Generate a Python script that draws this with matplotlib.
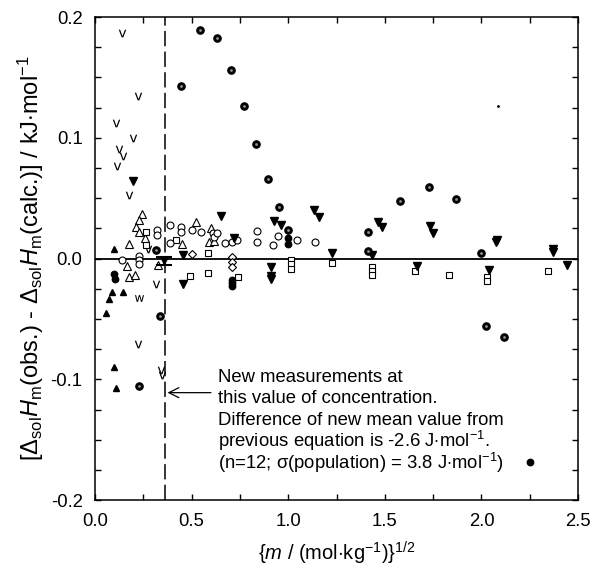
import matplotlib
matplotlib.use("Agg")
import matplotlib.pyplot as plt

plt.rcParams['font.family'] = ['Liberation Sans', 'DejaVu Sans']
plt.rcParams['mathtext.fontset'] = 'custom'
plt.rcParams['mathtext.rm'] = 'Liberation Sans'
plt.rcParams['mathtext.it'] = 'Liberation Sans:italic'
plt.rcParams['axes.unicode_minus'] = False

# data: x = sqrt(m), y = deviation in kJ/mol
v_x = [0.138, 0.224, 0.107, 0.195, 0.126, 0.143, 0.112, 0.178, 0.276, 0.314, 0.221, 0.340, 0.345]
v_y = [0.187, 0.135, 0.112, 0.100, 0.091, 0.085, 0.077, 0.053, 0.008, -0.021, -0.071, -0.092, -0.096]
w_x = [0.229]
w_y = [-0.033]

tri_fill_x = [0.097, 0.086, 0.147, 0.074, 0.055, 0.100, 0.107]
tri_fill_y = [0.008, -0.0275, -0.0275, -0.0335, -0.045, -0.090, -0.107]

tri_open_x = [0.245, 0.228, 0.214, 0.229, 0.259, 0.178, 0.521, 0.452, 0.592, 0.600, 0.616,
              0.166, 0.178, 0.209, 0.324]
tri_open_y = [0.037, 0.032, 0.026, 0.0217, 0.017, 0.0123, 0.030, 0.0117, 0.0137, 0.025, 0.0147,
              -0.006, -0.015, -0.0137, -0.0057]

sq_x = [0.262, 0.262, 0.419, 0.585, 0.492, 0.587, 0.739, 1.014, 1.014, 1.014, 1.225, 1.432,
        1.432, 1.432, 1.655, 1.832, 2.029, 2.029, 2.345]
sq_y = [0.022, 0.011, 0.0153, 0.005, -0.014, -0.012, -0.0156, -0.0012, -0.0048, -0.0087, -0.0035,
        -0.0073, -0.0104, -0.0137, -0.0106, -0.0134, -0.015, -0.0184, -0.0101]

circ_open_x = [0.319, 0.319, 0.388, 0.445, 0.445, 0.500, 0.549, 0.612, 0.616, 0.631, 0.671, 0.707,
               0.733, 0.837, 0.837, 0.920, 0.947, 0.388, 0.226, 0.226, 0.226, 0.141, 1.047, 1.139]
circ_open_y = [0.024, 0.0195, 0.028, 0.026, 0.022, 0.0236, 0.022, 0.021, 0.0176, 0.0214, 0.0126, 0.014,
               0.0153, 0.0225, 0.0134, 0.0114, 0.0186, 0.0131, 0.0023, -0.0012, -0.0046, -0.0012,
               0.0153, 0.0139]

dia_x = [0.502, 0.709, 0.709, 0.709]
dia_y = [0.0037, 0.001, -0.003, -0.0073]

tri_down_x = [0.195, 0.652, 0.457, 0.457, 0.719, 0.911, 0.911, 0.911, 0.925, 0.963, 1.135, 1.159,
              1.225, 1.432, 1.463, 1.487, 1.665, 1.734, 1.751, 2.038, 2.074, 2.080, 2.369, 2.372, 2.441]
tri_down_y = [0.064, 0.035, 0.003, -0.0214, 0.0167, -0.0073, -0.0145, -0.0167, 0.031, 0.028, 0.040,
              0.0346, 0.005, 0.003, 0.0305, 0.0263, -0.0062, 0.027, 0.0209, -0.0095, 0.014, 0.0155,
              0.0079, 0.0056, -0.0057]

dot_circ_x = [0.545, 0.630, 0.706, 0.445, 0.771, 0.834, 0.894, 0.950, 0.317, 0.335, 0.229, 0.998,
              1.411, 1.580, 1.730, 1.869, 1.415, 2.000, 2.022, 2.117]
dot_circ_y = [0.189, 0.183, 0.156, 0.1426, 0.126, 0.095, 0.066, 0.043, 0.0068, -0.0476, -0.1056, 0.0236,
              0.022, 0.0476, 0.059, 0.049, 0.006, 0.005, -0.056, -0.065]

circ_fill_x = [0.097, 0.104, 0.709, 0.709, 0.709, 1.000, 1.000, 2.252]
circ_fill_y = [-0.013, -0.017, -0.0178, -0.0205, -0.0228, 0.0167, 0.0117, -0.168]

new_x = 0.355
new_y = -0.0022
new_err = 0.0034
conc_x = 0.36

note_lines = ['New measurements at',
              'this value of concentration.',
              'Difference of new mean value from',
              'previous equation is -2.6 J$\\cdot$mol$^{-1}$.',
              '(n=12; \u03c3(population) = 3.8 J$\\cdot$mol$^{-1}$)']
note_y = [-0.1024, -0.1198, -0.1380, -0.1563, -0.1745]

fig = plt.figure(figsize=(5.92, 5.69), dpi=100)
ax = fig.add_axes([0.1605, 0.121, 0.816, 0.849])

ax.axhline(0, color='black', lw=1.3, zorder=1)
ax.axvline(conc_x, color='black', lw=1.1, dashes=(10, 3.5), zorder=1)

ax.plot(v_x, v_y, ls='none', marker=r'$\mathsf{v}$', ms=5.5, color='black', mew=0)
ax.plot(w_x, w_y, ls='none', marker=r'$\mathsf{w}$', ms=6.5, color='black', mew=0)
ax.plot(tri_fill_x, tri_fill_y, ls='none', marker='^', ms=5, color='black')
ax.plot(tri_open_x, tri_open_y, ls='none', marker='^', ms=5.5, mfc='white', mec='black', mew=0.8)
ax.plot(sq_x, sq_y, ls='none', marker='s', ms=4.3, mfc='white', mec='black', mew=0.8)
ax.plot(circ_open_x, circ_open_y, ls='none', marker='o', ms=5, mfc='white', mec='black', mew=0.8)
ax.plot(dia_x, dia_y, ls='none', marker='D', ms=4.3, mfc='white', mec='black', mew=0.8)
ax.plot(tri_down_x, tri_down_y, ls='none', marker='v', ms=5.2, mfc='black', mec='black')
ax.plot(dot_circ_x, dot_circ_y, ls='none', marker='o', ms=5.2, color='black')
ax.plot(dot_circ_x, dot_circ_y, ls='none', marker='o', ms=1.0, color='#909090')
ax.plot(circ_fill_x, circ_fill_y, ls='none', marker='o', ms=4.6, color='black')
ax.plot([2.084], [0.126], ls='none', marker='o', ms=1, color='black')

ax.errorbar([new_x], [new_y], yerr=[new_err], fmt='v', ms=5, color='black',
            capsize=6, elinewidth=1.2, capthick=1.5, zorder=5)

ax.annotate('', xy=(0.375, -0.111), xytext=(0.6, -0.111),
            arrowprops=dict(arrowstyle='->', color='black', lw=0.9,
                            shrinkA=0, shrinkB=0, mutation_scale=18))
for line, yy in zip(note_lines, note_y):
    ax.text(0.637, yy, line, fontsize=13.3, ha='left', va='baseline')

ax.set_xlim(0, 2.5)
ax.set_ylim(-0.2, 0.2)
ax.set_xticks([0.0, 0.5, 1.0, 1.5, 2.0, 2.5])
ax.set_xticklabels(['0.0', '0.5', '1.0', '1.5', '2.0', '2.5'])
ax.set_xticks([0.25, 0.75, 1.25, 1.75, 2.25], minor=True)
ax.set_yticks([-0.2, -0.1, 0.0, 0.1, 0.2])
ax.set_yticklabels(['-0.2', '-0.1', '0.0', '0.1', '0.2'])
ax.set_yticks([-0.175, -0.15, -0.125, -0.075, -0.05, -0.025, 0.025, 0.05, 0.075,
               0.125, 0.15, 0.175], minor=True)
ax.tick_params(which='both', direction='in', top=True, right=True, length=4.5, width=1,
               labelsize=13.3, pad=9)
for s in ax.spines.values():
    s.set_linewidth(1.1)

ax.set_xlabel(r'$\{m$ / (mol$\cdot$kg$^{-1}$)$\}^{1/2}$', fontsize=14.5, labelpad=7)
ax.set_ylabel(r'[$\Delta_{\rm sol}H_{\rm m}$(obs.) - $\Delta_{\rm sol}H_{\rm m}$(calc.)] / kJ$\cdot$mol$^{-1}$',
              fontsize=17, labelpad=3)

fig.savefig('out.png', dpi=100)
